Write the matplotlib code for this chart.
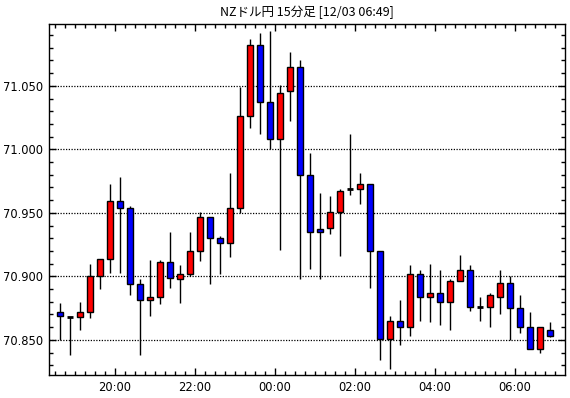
import matplotlib
matplotlib.use("Agg")
import matplotlib.pyplot as plt
from matplotlib.ticker import FixedLocator, MultipleLocator, FuncFormatter

plt.rcParams['font.family'] = ['Noto Sans CJK JP', 'DejaVu Sans']

title = "NZドル円 15分足 [12/03 06:49]"

opens  = [70.872, 70.868, 70.868, 70.872, 70.900, 70.914, 70.959, 70.954, 70.894, 70.881,
          70.884, 70.911, 70.898, 70.902, 70.920, 70.947, 70.930, 70.926, 70.954, 71.026,
          71.082, 71.037, 71.008, 71.046, 71.065, 70.980, 70.937, 70.938, 70.951, 70.969,
          70.969, 70.973, 70.920, 70.851, 70.865, 70.860, 70.902, 70.884, 70.887, 70.880,
          70.896, 70.905, 70.876, 70.876, 70.884, 70.895, 70.875, 70.860, 70.843, 70.858]
highs  = [70.879, 70.868, 70.880, 70.910, 70.914, 70.973, 70.978, 70.955, 70.898, 70.913,
          70.913, 70.935, 70.909, 70.935, 70.951, 70.947, 70.932, 70.981, 71.049, 71.087,
          71.092, 71.093, 71.051, 71.077, 71.070, 70.997, 70.966, 70.963, 70.969, 71.012,
          70.981, 70.973, 70.920, 70.869, 70.881, 70.909, 70.905, 70.910, 70.905, 70.898,
          70.917, 70.909, 70.884, 70.887, 70.905, 70.900, 70.885, 70.872, 70.860, 70.864]
lows   = [70.850, 70.838, 70.858, 70.867, 70.890, 70.903, 70.903, 70.885, 70.838, 70.869,
          70.878, 70.891, 70.879, 70.900, 70.912, 70.894, 70.902, 70.915, 70.950, 71.017,
          71.012, 71.000, 70.921, 71.022, 70.898, 70.906, 70.898, 70.933, 70.916, 70.964,
          70.957, 70.891, 70.834, 70.827, 70.846, 70.853, 70.865, 70.864, 70.862, 70.858,
          70.896, 70.873, 70.865, 70.860, 70.870, 70.850, 70.855, 70.843, 70.840, 70.852]
closes = [70.869, 70.868, 70.872, 70.900, 70.914, 70.959, 70.954, 70.894, 70.881, 70.884,
          70.911, 70.899, 70.902, 70.920, 70.947, 70.930, 70.926, 70.954, 71.026, 71.082,
          71.037, 71.008, 71.044, 71.065, 70.980, 70.935, 70.935, 70.951, 70.967, 70.969,
          70.973, 70.920, 70.851, 70.865, 70.860, 70.902, 70.884, 70.887, 70.880, 70.896,
          70.905, 70.876, 70.876, 70.885, 70.895, 70.875, 70.860, 70.843, 70.860, 70.853]

hour_labels = ["20:00", "22:00", "00:00", "02:00", "04:00", "06:00"]
hour_index = [6, 14, 22, 30, 38, 46]   # candle index at which each label's hour starts

W, H = 570, 398
fig = plt.figure(figsize=(W / 100, H / 100), dpi=100)
ax = fig.add_axes([49 / W, 1 - 375 / H, (565 - 49) / W, (375 - 24) / H])

n = len(opens)
xs = list(range(n))
for i in xs:
    o, h, l, c = opens[i], highs[i], lows[i], closes[i]
    ax.vlines(i, l, h, color='black', linewidth=1.0, zorder=2)
    if c > o:
        fc = '#FF0000'
    elif c < o:
        fc = '#0000FF'
    else:
        fc = 'black'
    bottom = min(o, c)
    height = abs(c - o)
    if height < 0.0005:
        ax.hlines(o, i - 0.33, i + 0.33, color='black', linewidth=2.0, zorder=3)
    else:
        ax.bar(i, height, bottom=bottom, width=0.66, color=fc, edgecolor='black',
               linewidth=1.0, zorder=3)

ax.set_xlim(-1.1, 50.5)
ax.set_ylim(70.8223, 71.0987)

ax.yaxis.set_major_locator(FixedLocator([70.85, 70.90, 70.95, 71.00, 71.05]))
ax.yaxis.set_minor_locator(MultipleLocator(0.01))
ax.yaxis.set_major_formatter(FuncFormatter(lambda v, p: f"{v:.3f}"))

ax.xaxis.set_major_locator(FixedLocator([k - 0.5 for k in hour_index]))
ax.xaxis.set_minor_locator(FixedLocator([k - 0.5 for k in range(0, n + 1)]))
ax.set_xticklabels(hour_labels)

ax.tick_params(which='both', direction='in', top=True, right=True, colors='black',
               labelsize=8.3, width=1.0)
ax.tick_params(which='major', length=5, pad=4)
ax.tick_params(which='minor', length=3)
for lab in ax.get_xticklabels() + ax.get_yticklabels():
    lab.set_family(['DejaVu Sans'])

ax.grid(axis='y', which='major', color='black', linestyle=(0, (1, 1.2)), linewidth=0.9, zorder=1)
for s in ax.spines.values():
    s.set_linewidth(1.0)
    s.set_color('black')

fig.text(307 / W, 1 - 12 / H, title, ha='center', va='center', fontsize=9)

fig.savefig("out.png", dpi=100)
